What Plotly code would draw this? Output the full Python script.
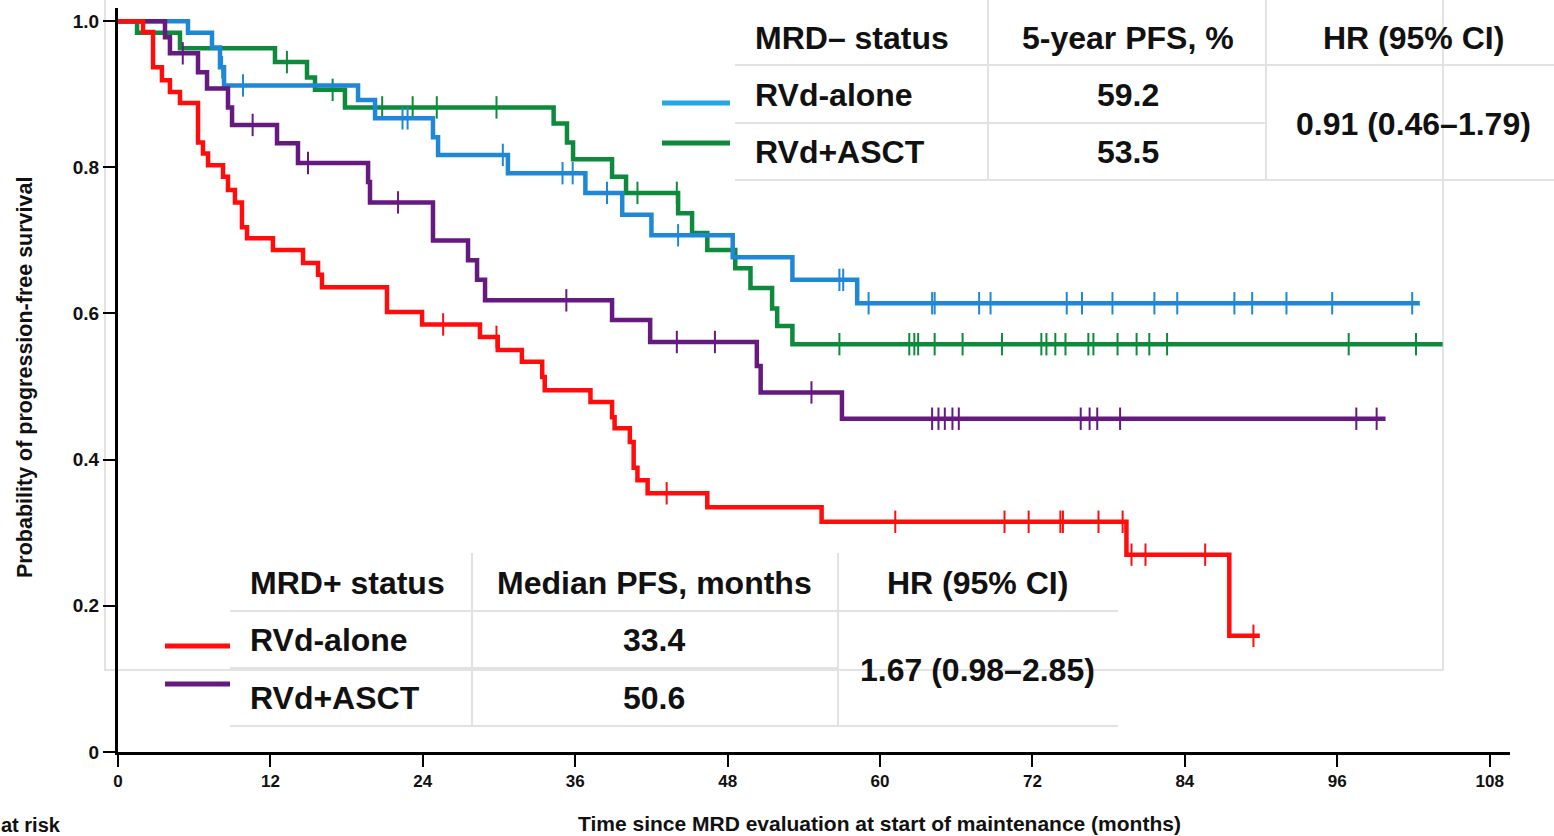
import plotly.graph_objects as go

# ---------------- data ----------------
# MRD+ RVd-alone (red)
red_t = [0, 1.97, 2.76, 3.46, 4.09, 4.88, 6.30, 6.69, 7.09, 8.27, 8.66, 9.21, 9.76, 10.16,
         12.2, 14.57, 15.75, 16.06, 21.18, 23.94, 28.5, 29.9, 31.8, 33.4, 33.6, 37.2, 38.9,
         39.1, 40.3, 40.6, 40.9, 41.7, 46.4, 55.4, 79.4, 87.5]
red_s = [1.0, 0.985, 0.937, 0.919, 0.903, 0.888, 0.834, 0.819, 0.803, 0.787, 0.769, 0.752,
         0.718, 0.703, 0.687, 0.669, 0.653, 0.636, 0.602, 0.585, 0.568, 0.550, 0.534, 0.513,
         0.495, 0.479, 0.458, 0.443, 0.424, 0.389, 0.372, 0.354, 0.335, 0.315, 0.270, 0.159]
red_end = 89.9
red_cens = [25.6, 29.8, 43.2, 61.2, 69.8, 71.7, 74.2, 74.4, 77.2, 79.1, 79.8, 80.9, 85.6, 89.4]

# MRD+ RVd+ASCT (purple)
pur_t = [0, 3.70, 4.09, 6.30, 7.01, 8.66, 8.98, 12.52, 14.17, 19.69, 19.84, 24.80, 27.56,
         28.27, 28.90, 38.9, 41.9, 50.3, 50.6, 57.0]
pur_s = [1.0, 0.978, 0.956, 0.930, 0.908, 0.882, 0.858, 0.833, 0.806, 0.780, 0.752, 0.700,
         0.673, 0.646, 0.618, 0.591, 0.561, 0.528, 0.492, 0.456]
pur_end = 99.8
pur_cens = [5.1, 10.6, 14.96, 22.05, 35.3, 44.0, 47.0, 54.6, 64.1, 64.6, 65.1, 65.7, 66.2,
            75.8, 76.5, 77.1, 78.9, 97.5, 99.1]

# MRD- RVd-alone (blue)
blu_t = [0, 5.51, 7.40, 8.03, 8.35, 18.9, 20.24, 24.8, 25.2, 30.7, 36.8, 39.7, 42.0, 48.4,
         53.1, 58.2]
blu_s = [1.0, 0.984, 0.964, 0.937, 0.912, 0.892, 0.867, 0.841, 0.817, 0.792, 0.765, 0.735,
         0.707, 0.677, 0.646, 0.614]
blu_end = 102.5
blu_cens = [8.2, 9.84, 22.4, 22.8, 30.3, 35.0, 35.8, 38.5, 44.1, 56.8, 57.1, 59.1, 64.1,
            64.3, 67.8, 68.7, 74.7, 75.9, 78.3, 81.6, 83.4, 87.9, 89.3, 92.0, 95.6, 101.9]

# MRD- RVd+ASCT (green)
grn_t = [0, 1.50, 4.88, 12.36, 14.88, 15.51, 17.87, 34.3, 35.35, 35.83, 38.9, 40.0, 44.1,
         45.2, 46.4, 48.6, 49.8, 51.5, 51.9, 53.1]
grn_s = [1.0, 0.984, 0.963, 0.944, 0.923, 0.906, 0.882, 0.860, 0.834, 0.811, 0.787, 0.765,
         0.737, 0.710, 0.687, 0.662, 0.635, 0.607, 0.583, 0.558]
grn_end = 104.3
grn_cens = [13.3, 16.9, 20.8, 23.2, 25.1, 29.8, 40.9, 44.0, 56.8, 62.3, 62.7, 63.0, 64.3,
            66.5, 69.6, 72.7, 73.1, 73.8, 74.6, 76.4, 76.8, 78.7, 80.2, 81.2, 82.6, 96.9,
            102.2]

x_ticks = [0, 12, 24, 36, 48, 60, 72, 84, 96, 108]
y_ticks = [0, 0.2, 0.4, 0.6, 0.8, 1.0]
y_ticktext = ["0", "0.2", "0.4", "0.6", "0.8", "1.0"]

neg_header = ["MRD\u2013 status", "5-year PFS, %", "HR (95% CI)"]
neg_rows = ["RVd-alone", "RVd+ASCT"]
neg_vals = ["59.2", "53.5"]
neg_hr = "0.91 (0.46\u20131.79)"

pos_header = ["MRD+ status", "Median PFS, months", "HR (95% CI)"]
pos_rows = ["RVd-alone", "RVd+ASCT"]
pos_vals = ["33.4", "50.6"]
pos_hr = "1.67 (0.98\u20132.85)"

x_title = "Time since MRD evaluation at start of maintenance (months)"
y_title = "Probability of progression-free survival"

RED = "#ff0d0d"
PUR = "#66197f"
BLU = "#1f88d6"
BLU_LEG = "#22a8e8"
GRN = "#0e8a3c"

# ---------------- layout geometry ----------------
W_FIG, H_FIG = 1554, 836
L, R, T, B = 118, 1510, 8, 752
PW, PH = R - L, B - T


def X(px):
    return (px - L) / PW


def Y(py):
    return (B - py) / PH


def step_val(ts, ss, c):
    v = ss[0]
    for t, s in zip(ts, ss):
        if t <= c:
            v = s
    return v


fig = go.Figure()

curves = [
    (grn_t, grn_s, grn_end, grn_cens, GRN),
    (blu_t, blu_s, blu_end, blu_cens, BLU),
    (pur_t, pur_s, pur_end, pur_cens, PUR),
    (red_t, red_s, red_end, red_cens, RED),
]
for ts, ss, end, cens, col in curves:
    fig.add_trace(go.Scatter(
        x=ts + [end], y=ss + [ss[-1]], mode="lines",
        line=dict(color=col, width=4.5, shape="hv"), showlegend=False, hoverinfo="skip"))
    fig.add_trace(go.Scatter(
        x=cens, y=[step_val(ts, ss, c) for c in cens], mode="markers",
        marker=dict(symbol="line-ns", size=16, line=dict(color=col, width=2)),
        showlegend=False, hoverinfo="skip"))

FONT = "Liberation Sans, Arial, sans-serif"
GRAY = "#e2e2e2"

shapes = []
# faint outer box from original figure
shapes.append(dict(type="rect", xref="paper", yref="paper", x0=X(105), x1=X(1443),
                   y0=Y(670), y1=Y(-4), line=dict(color="#dadada", width=1.5), layer="below"))


def hline(x0, x1, py):
    shapes.append(dict(type="line", xref="paper", yref="paper", x0=X(x0), x1=X(x1),
                       y0=Y(py), y1=Y(py), line=dict(color=GRAY, width=2), layer="below"))


def vline(px, y0, y1):
    shapes.append(dict(type="line", xref="paper", yref="paper", x0=X(px), x1=X(px),
                       y0=Y(y0), y1=Y(y1), line=dict(color=GRAY, width=2), layer="below"))


# MRD- table grid
hline(735, 1554, 65)
hline(735, 1266, 123)
hline(735, 1554, 180)
vline(988, -4, 180)
vline(1266, -4, 180)
# MRD+ table grid
hline(230, 1118, 611)
hline(230, 838, 668)
hline(230, 1118, 726)
vline(472, 553, 726)
vline(838, 553, 726)

# legend line samples
for col, y0, x0, x1 in [(BLU_LEG, 103, 662, 730), (GRN, 143, 662, 730),
                        (RED, 646, 165, 230), (PUR, 684, 165, 230)]:
    shapes.append(dict(type="line", xref="paper", yref="paper", x0=X(x0), x1=X(x1),
                       y0=Y(y0), y1=Y(y0), line=dict(color=col, width=5)))

ann = []


def txt(s, px, py, size=32, anchor="center"):
    ann.append(dict(text=s, xref="paper", yref="paper", x=X(px), y=Y(py),
                    xanchor=anchor, yanchor="middle", showarrow=False,
                    font=dict(family=FONT, size=size, color="#111111", weight="bold")))


# MRD- table text
txt(neg_header[0], 753, 38, anchor="left")
txt(neg_header[1], 1128, 38)
txt(neg_header[2], 1413, 38)
txt(neg_rows[0], 753, 95, anchor="left")
txt(neg_rows[1], 753, 152, anchor="left")
txt(neg_vals[0], 1128, 95)
txt(neg_vals[1], 1128, 152)
txt(neg_hr, 1413, 124)
# MRD+ table text
txt(pos_header[0], 248, 583, anchor="left")
txt(pos_header[1], 654, 583)
txt(pos_header[2], 977, 583)
txt(pos_rows[0], 248, 640, anchor="left")
txt(pos_rows[1], 248, 698, anchor="left")
txt(pos_vals[0], 654, 640)
txt(pos_vals[1], 654, 698)
txt(pos_hr, 977, 670)

# axis titles and stray label
txt(x_title, 879, 824, size=21)
txt("at risk", -1, 825, size=20, anchor="left")
ann.append(dict(text=y_title, xref="paper", yref="paper", x=X(25), y=Y(378),
                xanchor="center", yanchor="middle", showarrow=False, textangle=-90,
                font=dict(family=FONT, size=21.5, color="#111111", weight="bold")))

fig.update_layout(
    width=W_FIG, height=H_FIG,
    margin=dict(l=L, r=W_FIG - R, t=T, b=H_FIG - B),
    paper_bgcolor="white", plot_bgcolor="white",
    shapes=shapes, annotations=ann,
    xaxis=dict(range=[0, 109.6], tickvals=x_ticks, ticks="outside", ticklen=12, tickwidth=2,
               tickcolor="black", showline=True, linewidth=3, linecolor="black",
               showgrid=False, zeroline=False,
               tickfont=dict(family=FONT, size=17, color="#111111", weight="bold")),
    yaxis=dict(range=[0, 1.018], tickvals=y_ticks, ticktext=y_ticktext, ticks="outside",
               ticklen=12, tickwidth=2, tickcolor="black", showline=True, linewidth=3,
               linecolor="black", showgrid=False, zeroline=False,
               tickfont=dict(family=FONT, size=19, color="#111111", weight="bold")),
)

fig.write_html("out.html", config={"displayModeBar": False},
               post_script="document.body.style.margin='0';document.body.style.overflow='hidden';")
